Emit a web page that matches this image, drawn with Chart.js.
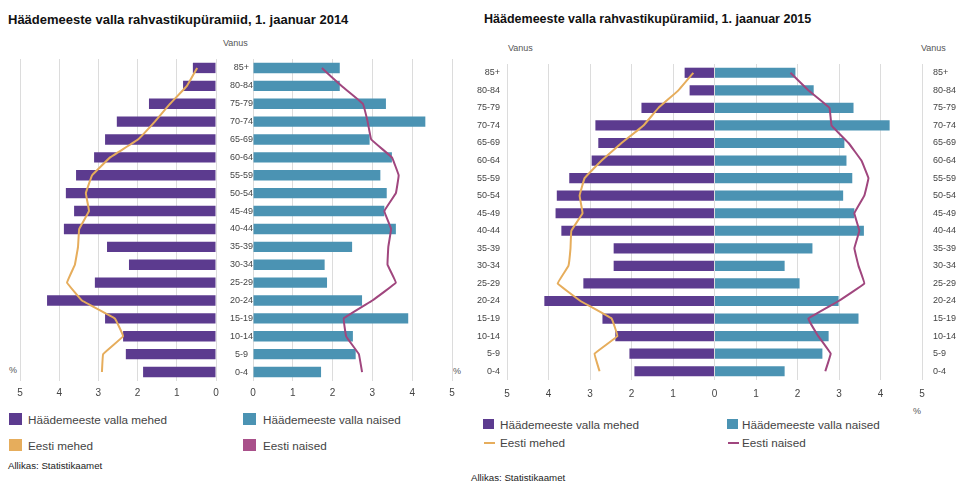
<!DOCTYPE html>
<html>
<head>
<meta charset="utf-8">
<script src="https://cdn.jsdelivr.net/npm/chart.js@4"></script>
<style>
body { margin: 0; width: 962px; height: 484px; background: #fff; position: relative; overflow: hidden;
       font-family: "Liberation Sans", Arial, sans-serif; color: #444; }
canvas { position: absolute; top: 0; }
.t { position: absolute; white-space: nowrap; line-height: 1; }
.title { font-weight: bold; color: #111; }
.sq { position: absolute; }
.ln { position: absolute; height: 2px; }
</style>
</head>
<body>
<div class="t title" style="left:8px;top:13px;font-size:13px">Häädemeeste valla rahvastikupüramiid, 1. jaanuar 2014</div>
<div class="t title" style="left:484px;top:13px;font-size:12.5px">Häädemeeste valla rahvastikupüramiid, 1. jaanuar 2015</div>

<div class="t" style="left:223px;top:39px;font-size:9px;color:#555">Vanus</div>
<div class="t" style="left:508px;top:44px;font-size:9px;color:#555">Vanus</div>
<div class="t" style="left:921px;top:44px;font-size:9px;color:#555">Vanus</div>

<div class="t" style="left:9px;top:366px;font-size:9px;color:#555">%</div>
<div class="t" style="left:453px;top:367px;font-size:9px;color:#555">%</div>
<div class="t" style="left:913px;top:407px;font-size:9px;color:#555">%</div>

<canvas id="menA" width="230" height="410" style="left:0px"></canvas>
<canvas id="womenA" width="250" height="410" style="left:216px"></canvas>
<canvas id="chartB" width="497" height="410" style="left:465px"></canvas>

<!-- legend 2014 -->
<div class="sq" style="left:9px;top:413px;width:13px;height:12px;background:#5c3b8f"></div>
<div class="t" style="left:28px;top:414px;font-size:11.7px">Häädemeeste valla mehed</div>
<div class="sq" style="left:243px;top:413px;width:13px;height:12px;background:#4b93b3"></div>
<div class="t" style="left:263px;top:414px;font-size:11.7px">Häädemeeste valla naised</div>
<div class="sq" style="left:9px;top:439px;width:13px;height:12px;background:#e6ad5c"></div>
<div class="t" style="left:28px;top:440px;font-size:11.7px">Eesti mehed</div>
<div class="sq" style="left:243px;top:439px;width:13px;height:12px;background:#a9508a"></div>
<div class="t" style="left:263px;top:440px;font-size:11.7px">Eesti naised</div>
<div class="t" style="left:8px;top:461px;font-size:9.7px;color:#222">Allikas: Statistikaamet</div>

<!-- legend 2015 -->
<div class="sq" style="left:483px;top:419px;width:11px;height:10px;background:#5c3b8f"></div>
<div class="t" style="left:500px;top:419px;font-size:11.7px">Häädemeeste valla mehed</div>
<div class="sq" style="left:727px;top:419px;width:11px;height:10px;background:#4b93b3"></div>
<div class="t" style="left:742px;top:419px;font-size:11.7px">Häädemeeste valla naised</div>
<div class="ln" style="left:484px;top:442px;width:11px;background:#e6ad5c"></div>
<div class="t" style="left:500px;top:437px;font-size:11.7px">Eesti mehed</div>
<div class="ln" style="left:728px;top:442px;width:11px;background:#a0467e"></div>
<div class="t" style="left:742px;top:437px;font-size:11.7px">Eesti naised</div>
<div class="t" style="left:471px;top:473px;font-size:9.7px;color:#222">Allikas: Statistikaamet</div>

<script>
// --- DATA ---
const ageGroups = ['85+', '80-84', '75-79', '70-74', '65-69', '60-64', '55-59', '50-54', '45-49',
                   '40-44', '35-39', '30-34', '25-29', '20-24', '15-19', '10-14', '5-9', '0-4'];

// 1. jaanuar 2014, % of population
const men2014 = [0.59, 0.84, 1.71, 2.53, 2.83, 3.11, 3.57, 3.83, 3.62, 3.88, 2.78, 2.22, 3.09, 4.31, 2.83, 2.37, 2.30, 1.86];
const women2014 = [2.18, 2.18, 3.34, 4.33, 2.93, 3.49, 3.20, 3.36, 3.30, 3.59, 2.49, 1.80, 1.86, 2.74, 3.90, 2.51, 2.58, 1.71];
const estMen2014 = [0.48, 0.74, 1.17, 1.56, 1.99, 2.70, 3.16, 3.32, 3.24, 3.49, 3.52, 3.60, 3.80, 3.42, 2.58, 2.37, 2.88, 2.91];
const estWomen2014 = [1.73, 2.22, 2.76, 2.88, 2.97, 3.49, 3.66, 3.59, 3.30, 3.47, 3.40, 3.38, 3.59, 3.00, 2.28, 2.34, 2.66, 2.74];

// 1. jaanuar 2015
const men2015 = [0.72, 0.60, 1.76, 2.87, 2.80, 2.96, 3.50, 3.80, 3.83, 3.69, 2.43, 2.43, 3.16, 4.10, 2.70, 2.39, 2.05, 1.93];
const women2015 = [1.95, 2.39, 3.35, 4.22, 3.13, 3.18, 3.32, 3.10, 3.37, 3.60, 2.36, 1.69, 2.05, 2.99, 3.47, 2.75, 2.60, 1.69];
const estMen2015 = [0.51, 0.87, 1.35, 1.71, 2.24, 2.72, 3.13, 3.25, 3.18, 3.45, 3.47, 3.52, 3.78, 3.23, 2.48, 2.34, 2.89, 2.77];
const estWomen2015 = [1.83, 2.26, 2.77, 2.82, 3.23, 3.54, 3.71, 3.61, 3.37, 3.49, 3.37, 3.47, 3.61, 2.99, 2.26, 2.50, 2.80, 2.67];

// --- STYLE ---
const PURPLE = '#5c3b8f';
const TEAL = '#4b93b3';
const ORANGE = '#e6ad5c';
const PINK = '#a0467e';
const GRID = '#dcdcdc';
const FONT = "'Liberation Sans', Arial, sans-serif";

const barSet = (label, data, color) => ({
    type: 'bar', label, data, backgroundColor: color, order: 1,
    barPercentage: 0.58, categoryPercentage: 1, grouped: false
});
const lineSet = (label, data, color) => ({
    type: 'line', label, data, borderColor: color, borderWidth: 2, pointRadius: 0,
    indexAxis: 'y', tension: 0.05, order: 0, fill: false
});

const baseOptions = (padding, scales) => ({
    indexAxis: 'y',
    responsive: false,
    animation: false,
    layout: { padding },
    plugins: { legend: { display: false }, tooltip: { enabled: false } },
    scales
});

const xTicks = { stepSize: 1, color: '#444', padding: 6, font: { family: FONT, size: 10 } };
const ageTicks = { color: '#444', font: { family: FONT, size: 9 } };
const noGrid = { display: false, drawTicks: false };

// --- 2014 men ---
new Chart(document.getElementById('menA'), {
    type: 'bar',
    data: { labels: ageGroups, datasets: [
        lineSet('Eesti mehed', estMen2014, ORANGE),
        barSet('Häädemeeste valla mehed', men2014, PURPLE)
    ]},
    options: baseOptions({ left: 20, right: 14, top: 59, bottom: 0 }, {
        x: { reverse: true, min: 0, max: 5, ticks: xTicks,
             grid: { color: GRID, drawTicks: false }, border: { display: false },
             afterFit: s => { s.height = 29; } },
        y: { display: false }
    })
});

// --- 2014 women ---
new Chart(document.getElementById('womenA'), {
    type: 'bar',
    data: { labels: ageGroups, datasets: [
        lineSet('Eesti naised', estWomen2014, PINK),
        barSet('Häädemeeste valla naised', women2014, TEAL)
    ]},
    options: baseOptions({ left: 0, right: 14, top: 59, bottom: 0 }, {
        x: { min: 0, max: 5, ticks: xTicks,
             grid: { color: GRID, drawTicks: false }, border: { display: false },
             afterFit: s => { s.height = 29; } },
        y: { position: 'left', grid: noGrid, border: { display: false },
             ticks: { ...ageTicks, crossAlign: 'center', padding: 0 },
             afterFit: s => { s.width = 37; } }
    })
});

// --- 2015 (men drawn to the left) ---
new Chart(document.getElementById('chartB'), {
    type: 'bar',
    data: { labels: ageGroups, datasets: [
        lineSet('Eesti mehed', estMen2015.map(v => -v), ORANGE),
        lineSet('Eesti naised', estWomen2015, PINK),
        barSet('Häädemeeste valla mehed', men2015.map(v => -v), PURPLE),
        barSet('Häädemeeste valla naised', women2015, TEAL)
    ]},
    options: baseOptions({ left: 5, right: 5, top: 64, bottom: 0 }, {
        x: { min: -5, max: 5,
             ticks: { ...xTicks, padding: 8, callback: v => Math.abs(v) },
             grid: { color: GRID, drawTicks: false }, border: { display: false },
             afterFit: s => { s.height = 30; } },
        y: { position: 'left', grid: noGrid, border: { display: false },
             ticks: { ...ageTicks, padding: 7 },
             afterFit: s => { s.width = 37; } },
        y2: { type: 'category', labels: ageGroups, position: 'right', offset: true,
              grid: noGrid, border: { display: false },
              ticks: { ...ageTicks, padding: 11 },
              afterFit: s => { s.width = 35; } }
    })
});
</script>
</body>
</html>
